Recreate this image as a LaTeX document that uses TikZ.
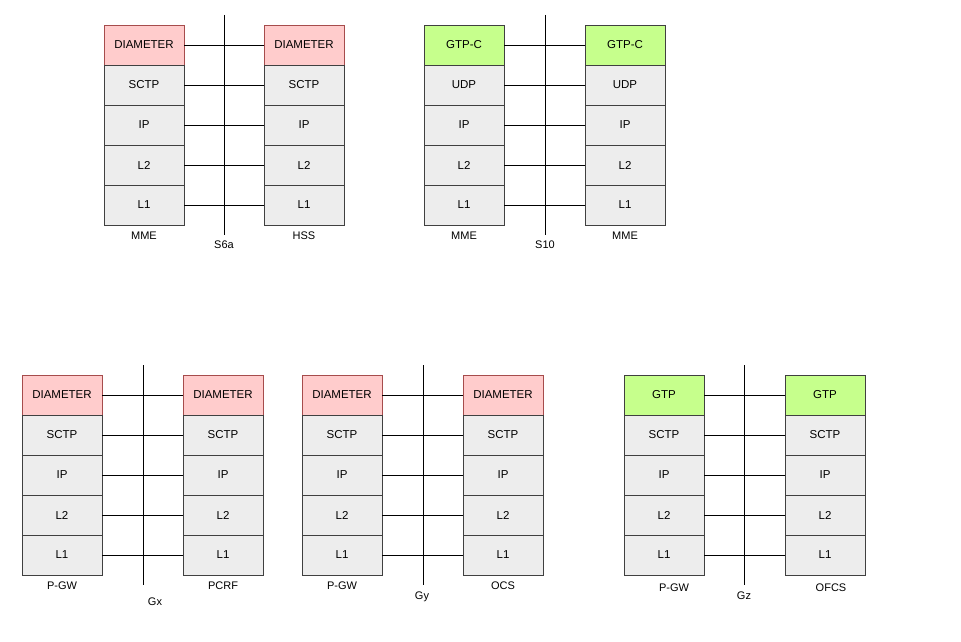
\documentclass[tikz,border=0pt]{standalone}
\usepackage{fontspec}
\setmainfont{Liberation Sans}
\begin{document}
\begin{tikzpicture}[x=1pt,y=-1pt,
  lay/.style={draw=black!75,fill=black!7,minimum width=80pt,minimum height=40pt,inner sep=0pt,font=\fontsize{11.5}{13}\selectfont},
  dia/.style={lay,draw=red!50!black!70,fill=red!20},
  gtp/.style={lay,fill=green!50!yellow!45},
  lbl/.style={font=\fontsize{11}{13}\selectfont,inner sep=0pt},
  ln/.style={draw=black,line width=0.7pt}]
\useasboundingbox (0,0) rectangle (961,642);
% args: prefix, x-left-center, x-right-center, x-line, y-top, top-style, top-text, second text, left label, right label, iface, iface-y, lbl-y
\newcommand\mystack[8]{%
  \foreach \s/\t [count=\i from 0] in {#5} {
    \node[\s] (#1a\i) at (#2,#4+20+40*\i) {\t};
    \node[\s] (#1b\i) at (#3,#4+20+40*\i) {\t};
  }
  \coordinate (#1lt) at (#6,#4-10);
  \coordinate (#1lb) at (#6,#4+210);
  \draw[ln] (#1lt) -- (#1lb);
  \foreach \i in {0,...,4} \draw[ln] (#1a\i) -- (#1b\i);
}
\mystack{A}{144}{304}{25}{dia/DIAMETER,lay/SCTP,lay/IP,lay/L2,lay/L1}{224}{}{}
\node[lbl] (Al) at (144,236) {MME};
\node[lbl] (Ar) at (304,236) {HSS};
\node[lbl] (Ai) at (224,245) {S6a};
\mystack{B}{464}{625}{25}{gtp/GTP-C,lay/UDP,lay/IP,lay/L2,lay/L1}{545}{}{}
\node[lbl] (Bl) at (464,236) {MME};
\node[lbl] (Br) at (625,236) {MME};
\node[lbl] (Bi) at (545,245) {S10};
\mystack{C}{62}{223}{375}{dia/DIAMETER,lay/SCTP,lay/IP,lay/L2,lay/L1}{143}{}{}
\node[lbl] (Cl) at (62,586) {P-GW};
\node[lbl] (Cr) at (223,586) {PCRF};
\node[lbl] (Ci) at (155,602) {Gx};
\mystack{D}{342}{503}{375}{dia/DIAMETER,lay/SCTP,lay/IP,lay/L2,lay/L1}{423}{}{}
\node[lbl] (Dl) at (342,586) {P-GW};
\node[lbl] (Dr) at (503,586) {OCS};
\node[lbl] (Di) at (422,597) {Gy};
\mystack{E}{664}{825}{375}{gtp/GTP,lay/SCTP,lay/IP,lay/L2,lay/L1}{744}{}{}
\node[lbl] (El) at (674,588) {P-GW};
\node[lbl] (Er) at (831,588) {OFCS};
\node[lbl] (Ei) at (744,596) {Gz};
\end{tikzpicture}
\end{document}
